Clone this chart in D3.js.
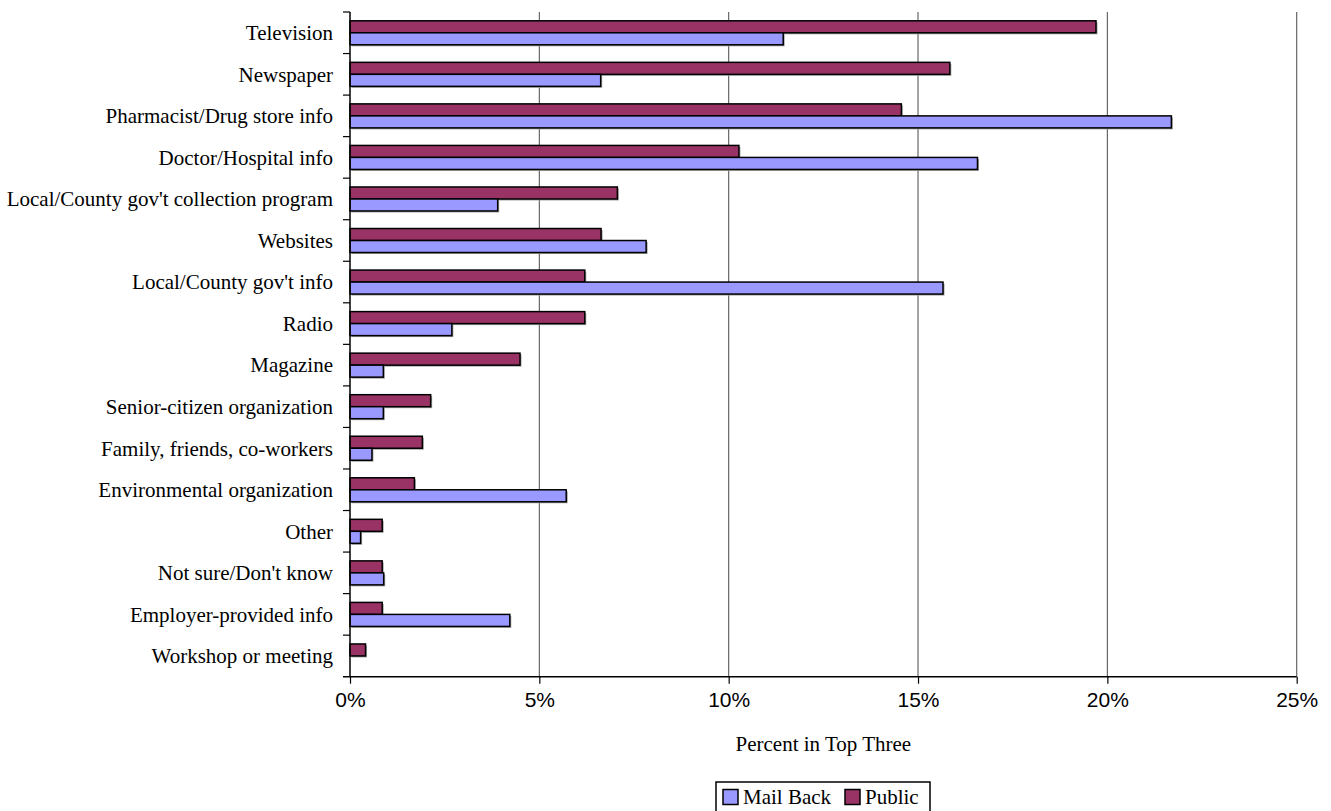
<!DOCTYPE html>
<html>
<head>
<meta charset="utf-8">
<script src="https://cdn.jsdelivr.net/npm/d3@7"></script>
<style>
  html, body { margin: 0; padding: 0; background: #fff; }
  svg { display: block; }
</style>
</head>
<body>
<svg id="chart" width="1331" height="811"></svg>
<script>
// Sources of information on medicine disposal, share naming each in their top three
const categories = [
  "Television",
  "Newspaper",
  "Pharmacist/Drug store info",
  "Doctor/Hospital info",
  "Local/County gov't collection program",
  "Websites",
  "Local/County gov't info",
  "Radio",
  "Magazine",
  "Senior-citizen organization",
  "Family, friends, co-workers",
  "Environmental organization",
  "Other",
  "Not sure/Don't know",
  "Employer-provided info",
  "Workshop or meeting"
];
const mailBack = [11.44, 6.62, 21.69, 16.57, 3.90, 7.82, 15.66, 2.69, 0.88, 0.88, 0.58, 5.71, 0.28, 0.89, 4.22, 0];
const publicSurvey = [19.70, 15.84, 14.56, 10.27, 7.06, 6.63, 6.20, 6.20, 4.49, 2.13, 1.91, 1.70, 0.85, 0.85, 0.85, 0.41];
const seriesNames = ["Public", "Mail Back"];
const xTicks = [0, 5, 10, 15, 20, 25];
const xTitle = "Percent in Top Three";

const colors = { "Mail Back": "#9999FF", "Public": "#993366" };
const serif = "'Liberation Serif', 'Times New Roman', serif";
const sans = "'Liberation Sans', Arial, sans-serif";

const svg = d3.select("#chart");
const plot = { left: 350, right: 1296.7, top: 12, bottom: 676.7 };

const x = d3.scaleLinear().domain([0, 25]).range([plot.left, plot.right]);
const y = d3.scaleBand().domain(categories).range([plot.top, plot.bottom]).padding(0);
const inner = d3.scaleBand().domain(seriesNames).range([8.8, 32.8]).padding(0);

const rows = categories.map((c, i) => ({ cat: c, "Public": publicSurvey[i], "Mail Back": mailBack[i] }));

// vertical gridlines
svg.append("g")
  .selectAll("line")
  .data(xTicks.filter(t => t > 0))
  .join("line")
  .attr("x1", d => x(d)).attr("x2", d => x(d))
  .attr("y1", plot.top).attr("y2", plot.bottom)
  .attr("stroke", "#5a5a5a")
  .attr("stroke-width", 1.1);

// bars
const groups = svg.append("g")
  .selectAll("g")
  .data(rows)
  .join("g")
  .attr("transform", d => `translate(0,${y(d.cat)})`);

const barData = d => seriesNames.map(s => ({ s, v: d[s] })).filter(b => b.v > 0);

// soft shadow under each bar
groups.selectAll("rect.shadow")
  .data(barData)
  .join("rect")
  .attr("class", "shadow")
  .attr("x", x(0) + 1.5)
  .attr("y", b => inner(b.s) + 1.5)
  .attr("width", b => x(b.v) - x(0))
  .attr("height", inner.bandwidth())
  .attr("fill", "#a0a0a0");

groups.selectAll("rect.bar")
  .data(barData)
  .join("rect")
  .attr("class", "bar")
  .attr("x", x(0))
  .attr("y", b => inner(b.s))
  .attr("width", b => x(b.v) - x(0))
  .attr("height", inner.bandwidth())
  .attr("fill", b => colors[b.s])
  .attr("stroke", "#000")
  .attr("stroke-width", 1.5);

// x axis
const xAxis = d3.axisBottom(x)
  .tickValues(xTicks)
  .tickFormat(d => d + "%")
  .tickSizeInner(7)
  .tickSizeOuter(0)
  .tickPadding(8);
const gx = svg.append("g")
  .attr("transform", `translate(0,${plot.bottom})`)
  .call(xAxis);
gx.select(".domain").attr("stroke", "#000").attr("stroke-width", 1.5)
  .attr("d", `M${plot.left - 7},0H${plot.right}`);
gx.selectAll(".tick line").attr("stroke", "#000").attr("stroke-width", 1.2);
gx.selectAll(".tick text")
  .attr("font-family", sans)
  .attr("font-size", 21)
  .attr("fill", "#000");

// y axis: ticks at band boundaries, labels centered on bands
const gy = svg.append("g");
gy.append("line")
  .attr("x1", plot.left).attr("x2", plot.left)
  .attr("y1", plot.top).attr("y2", plot.bottom)
  .attr("stroke", "#000").attr("stroke-width", 1.5);
gy.selectAll("line.tick")
  .data(categories)
  .join("line")
  .attr("class", "tick")
  .attr("x1", plot.left - 7).attr("x2", plot.left)
  .attr("y1", d => y(d)).attr("y2", d => y(d))
  .attr("stroke", "#000").attr("stroke-width", 1.2);
gy.selectAll("text")
  .data(categories)
  .join("text")
  .attr("x", plot.left - 17)
  .attr("y", d => y(d) + y.bandwidth() / 2)
  .attr("dy", "0.35em")
  .attr("text-anchor", "end")
  .attr("font-family", serif)
  .attr("font-size", 21)
  .attr("fill", "#000")
  .text(d => d);

// axis title
svg.append("text")
  .attr("x", (plot.left + plot.right) / 2)
  .attr("y", 751)
  .attr("text-anchor", "middle")
  .attr("font-family", serif)
  .attr("font-size", 21)
  .attr("fill", "#000")
  .text(xTitle);

// legend
const legendOrder = ["Mail Back", "Public"];
const lg = svg.append("g").attr("transform", "translate(716,782)");
lg.append("rect")
  .attr("x", 0).attr("y", 0)
  .attr("width", 214).attr("height", 40)
  .attr("fill", "#fff").attr("stroke", "#000").attr("stroke-width", 1.5);
const items = lg.selectAll("g.item")
  .data(legendOrder)
  .join("g")
  .attr("class", "item")
  .attr("transform", (d, i) => `translate(${i === 0 ? 7 : 129},0)`);
items.append("rect")
  .attr("x", 0).attr("y", 7.5)
  .attr("width", 15).attr("height", 15)
  .attr("fill", d => colors[d])
  .attr("stroke", "#000").attr("stroke-width", 1.5);
items.append("text")
  .attr("x", 20).attr("y", 15)
  .attr("dy", "0.35em")
  .attr("font-family", serif)
  .attr("font-size", 21)
  .attr("fill", "#000")
  .text(d => d);
</script>
</body>
</html>
